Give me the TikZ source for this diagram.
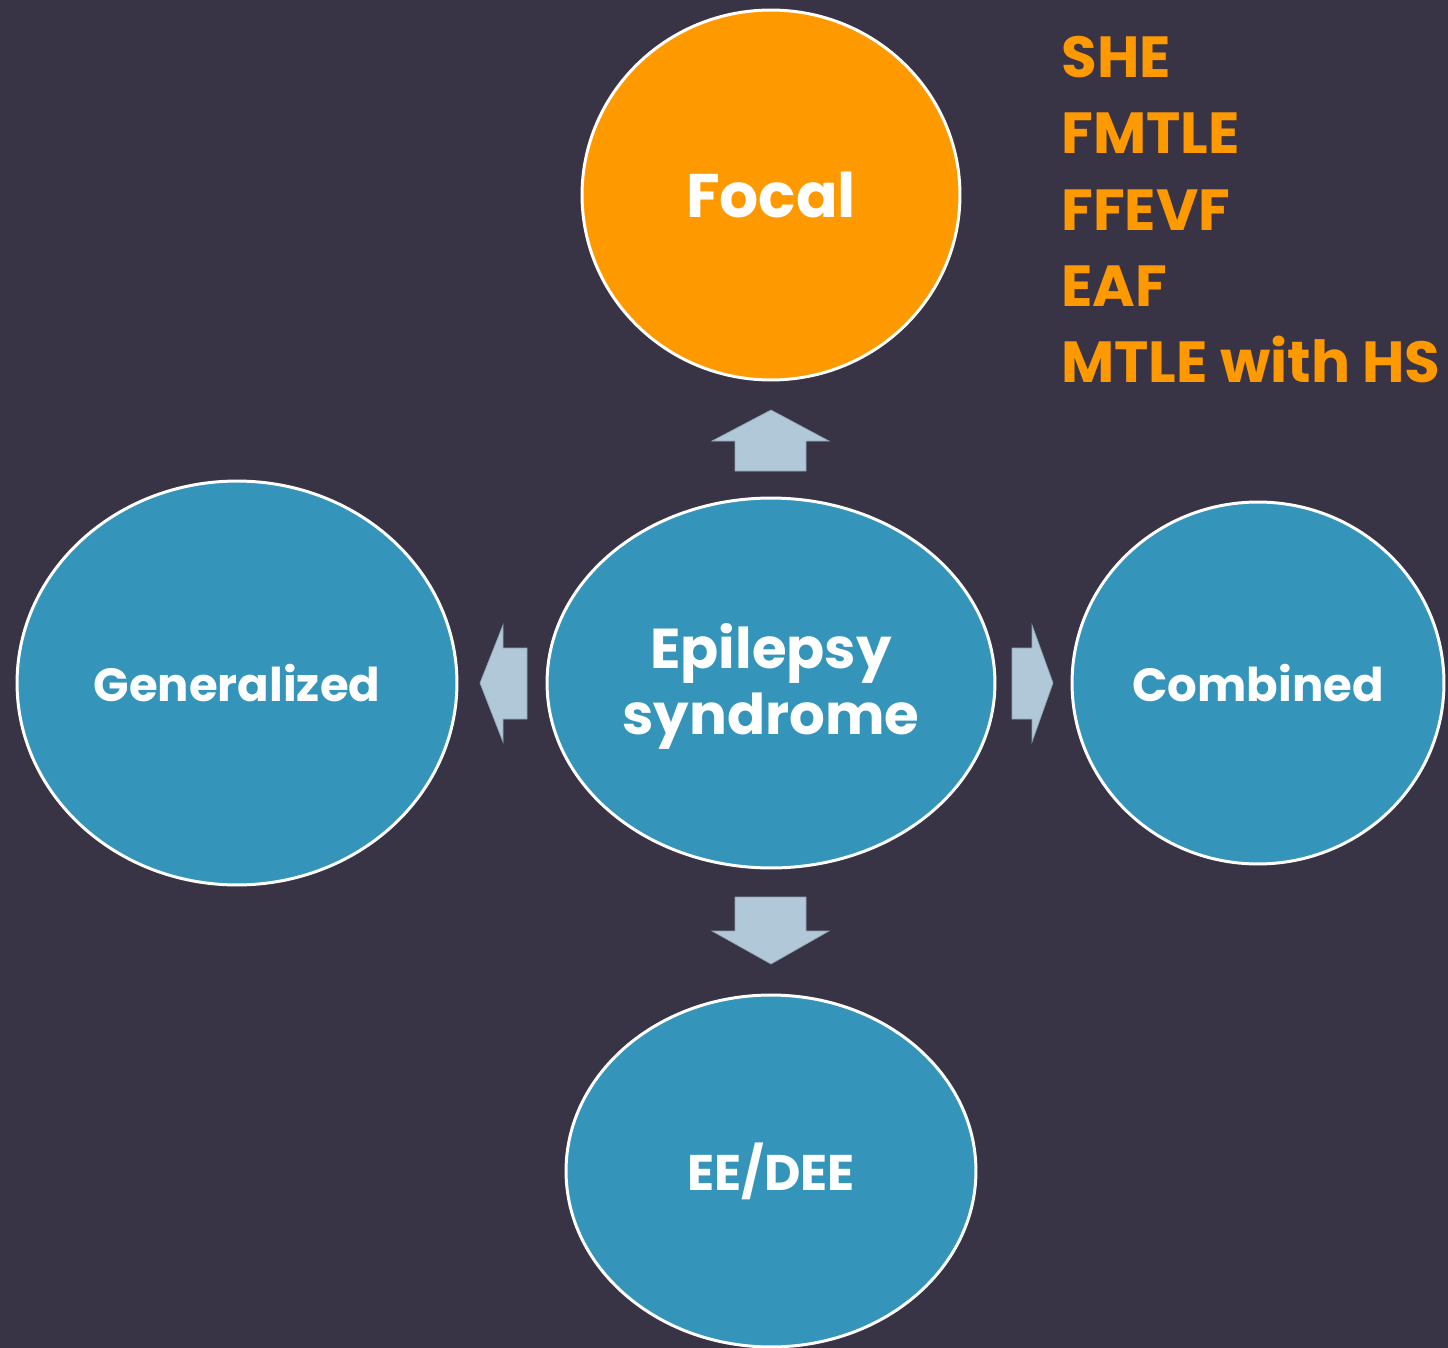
\documentclass[tikz,border=0pt]{standalone}
\usepackage{fontspec}
\setmainfont{Poppins}
\usetikzlibrary{shapes.geometric}
\definecolor{bgdark}{HTML}{383446}
\definecolor{tealfill}{HTML}{3594BA}
\definecolor{orangefill}{HTML}{FF9900}
\definecolor{arrowfill}{HTML}{B1C8D8}
\definecolor{arrowline}{HTML}{8FA3B3}
\tikzset{
  bubble/.style={ellipse, draw=white, line width=1.7pt, fill=tealfill,
    inner sep=0pt, outer sep=0pt},
  bubbletext/.style={text=white, inner sep=0pt, align=center},
  blockarrow/.style={fill=arrowfill, draw=arrowline, line width=0.4pt, line join=miter},
}
\begin{document}
\begin{tikzpicture}[x=0.02cm, y=-0.02cm]
  \fill[bgdark] (0,0) rectangle (1448,1348);
  \useasboundingbox (0,0) rectangle (1448,1348);

  % bubbles
  \node[bubble, fill=orangefill, minimum width=7.56cm, minimum height=7.40cm] (focal) at (771,195) {};
  \node[bubble, minimum width=8.96cm, minimum height=7.40cm] (center) at (771,683) {};
  \node[bubble, minimum width=8.80cm, minimum height=8.08cm] (gen) at (237,683) {};
  \node[bubble, minimum width=7.44cm, minimum height=7.24cm] (comb) at (1258,683) {};
  \node[bubble, minimum width=8.20cm, minimum height=7.04cm] (ee) at (771,1171) {};

  % bubble labels
  \node[bubbletext, font=\bfseries\fontsize{35}{40}\selectfont] (focaltext) at (focal) {Focal};
  \node[bubbletext, font=\bfseries\fontsize{32}{37.5}\selectfont] (centertext) at (771,686) {Epilepsy\\syndrome};
  \node[bubbletext, font=\bfseries\fontsize{26.5}{32}\selectfont] (gentext) at (gen) {Generalized};
  \node[bubbletext, font=\bfseries\fontsize{26.5}{32}\selectfont] (combtext) at (comb) {Combined};
  \node[bubbletext, font=\bfseries\fontsize{28.5}{32}\selectfont] (eetext) at (ee) {EE/DEE};

  % block arrows between the central bubble and the outer ones
  \filldraw[blockarrow] (735,471) -- (735,441) -- (712,441) -- (771,410)
     -- (829,441) -- (806,441) -- (806,471) -- cycle;
  \filldraw[blockarrow] (735,897) -- (735,931) -- (712,931) -- (771,964)
     -- (829,931) -- (806,931) -- (806,897) -- cycle;
  \filldraw[blockarrow] (527,648) -- (503,648) -- (503,625) -- (480,683)
     -- (503,742) -- (503,719) -- (527,719) -- cycle;
  \filldraw[blockarrow] (1012,648) -- (1032,648) -- (1032,625) -- (1053,683)
     -- (1032,742) -- (1032,719) -- (1012,719) -- cycle;

  % list of focal syndromes
  \node[anchor=north west, inner sep=0pt, text=orangefill, align=left,
        font=\bfseries\fontsize{33}{43.4}\selectfont] (list) at (1061,36)
    {SHE\\FMTLE\\FFEVF\\EAF\\MTLE with HS};
\end{tikzpicture}
\end{document}
